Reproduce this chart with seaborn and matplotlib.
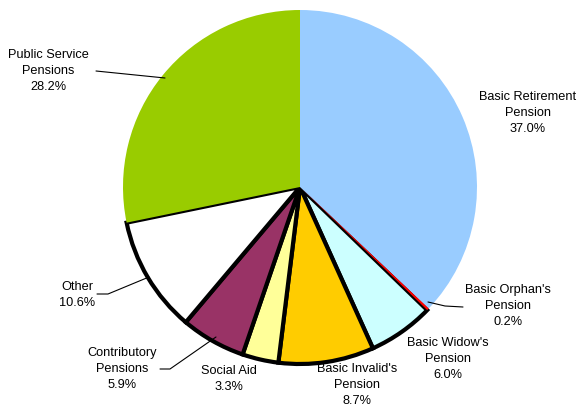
import matplotlib
matplotlib.use("Agg")
import matplotlib.pyplot as plt
import seaborn as sns

categories = ["Basic Retirement\nPension", "Basic Orphan's\nPension", "Basic Widow's\nPension",
              "Basic Invalid's\nPension", "Social Aid", "Contributory\nPensions", "Other",
              "Public Service\nPensions"]
values = [37.0, 0.2, 6.0, 8.7, 3.3, 5.9, 10.6, 28.2]
colors = ["#99CCFF", "#FF0000", "#CCFFFF", "#FFCC00", "#FFFF99", "#993366", "#FFFFFF", "#99CC00"]
bordered = [False, False, True, True, True, True, True, False]

# label layout (pixel positions of label centres) and leader lines (pixel paths)
label_px = [(528, 113), (508, 306), (448, 359), (357, 385), (229, 379), (122, 369), (77, 295), (48, 71)]
leader_px = [None, [(428, 302), (445, 306), (463, 307)], None, None, None,
             [(160, 369), (170, 369), (216, 337)], [(97, 294), (108, 294), (149, 277)],
             [(96, 71), (165, 78)]]

sns.set_theme(style="white")
plt.rcParams['font.family'] = ['Liberation Sans', 'DejaVu Sans']

W, H = 579, 407
cx, cy, R = 300, 187, 177
fig = plt.figure(figsize=(W / 100, H / 100), dpi=100)
ax = fig.add_axes([(cx - R) / W, (H - cy - R) / H, 2 * R / W, 2 * R / H])

wedges, _ = ax.pie(values, colors=colors, startangle=90, counterclock=False, radius=1)
ax.set_xlim(-1, 1)
ax.set_ylim(-1, 1)
ax.set_aspect('equal')
ax.axis('off')
for w, b in zip(wedges, bordered):
    if b:
        w.set_edgecolor('black')
        w.set_linewidth(3.0)
    else:
        w.set_edgecolor('none')
        w.set_linewidth(0)
wedges[-1].set_zorder(5)
wedges[0].set_zorder(5)
wedges[1].set_zorder(6)


def to_data(p):
    return ((p[0] - cx) / R, (cy - p[1]) / R)


for cat, v, pos, lead in zip(categories, values, label_px, leader_px):
    x, y = to_data(pos)
    ax.text(x, y, f"{cat}\n{v:.1f}%", ha='center', va='center', fontsize=9.2,
            linespacing=1.42, color='black', clip_on=False)
    if lead:
        pts = [to_data(p) for p in lead]
        ax.plot([p[0] for p in pts], [p[1] for p in pts], color='black', lw=0.8,
                clip_on=False, zorder=10)

fig.savefig("out.png", dpi=100, facecolor='white')
